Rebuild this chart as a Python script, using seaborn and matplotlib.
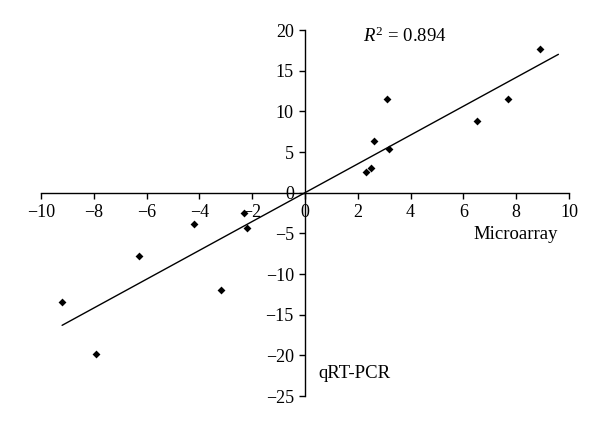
import numpy as np
import pandas as pd
import matplotlib
matplotlib.use("Agg")
import matplotlib.pyplot as plt
import seaborn as sns

# values
microarray = [8.9, 7.7, 6.5, 3.1, 2.6, 3.2, 2.5, 2.3,
              -9.2, -7.9, -6.3, -4.2, -3.2, -2.2, -2.3]
qrt_pcr = [17.7, 11.5, 8.85, 11.5, 6.3, 5.4, 3.1, 2.6,
           -13.5, -19.8, -7.8, -3.9, -12.0, -4.3, -2.5]
line_x = [-9.2, 9.6]
r_squared = 0.894
x_ticks = [-10, -8, -6, -4, -2, 0, 2, 4, 6, 8, 10]
y_ticks = [-25, -20, -15, -10, -5, 0, 5, 10, 15, 20]

data = pd.DataFrame({"microarray": microarray, "qrt_pcr": qrt_pcr})

# least squares line through the origin
x = np.array(microarray)
y = np.array(qrt_pcr)
slope = (x * y).sum() / (x * x).sum()
fit = pd.DataFrame({"x": line_x, "y": [slope * v for v in line_x]})

sns.set_theme(style="white")
plt.rcParams["font.family"] = ["Liberation Serif", "DejaVu Serif"]
plt.rcParams["text.color"] = "black"
plt.rcParams["mathtext.fontset"] = "custom"
plt.rcParams["mathtext.rm"] = "Liberation Serif"
plt.rcParams["mathtext.it"] = "Liberation Serif:italic"

fig = plt.figure(figsize=(6, 4.29), dpi=100)
ax = fig.add_axes([0.0683, 0.0769, 0.88, 0.853])

sns.lineplot(data=fit, x="x", y="y", color="black", linewidth=1.0, ax=ax)
sns.scatterplot(data=data, x="microarray", y="qrt_pcr", marker="D", s=16,
                color="black", edgecolor="black", linewidth=0, ax=ax, zorder=3)

ax.set_xlim(-10, 10)
ax.set_ylim(-25, 20)
ax.set_xticks(x_ticks)
ax.set_yticks(y_ticks)
ax.set_xticklabels([f"{t}".replace("-", "\u2212") for t in x_ticks])
ax.set_yticklabels([f"{t}".replace("-", "\u2212") for t in y_ticks])

for side in ["top", "right"]:
    ax.spines[side].set_visible(False)
ax.spines["left"].set_position(("data", 0))
ax.spines["bottom"].set_position(("data", 0))
for side in ["left", "bottom"]:
    ax.spines[side].set_color("black")
    ax.spines[side].set_linewidth(1.0)

ax.tick_params(axis="both", which="major", direction="out", length=4, width=1.0,
               color="black", labelsize=13, labelcolor="black")
ax.tick_params(axis="x", pad=4)
ax.tick_params(axis="y", pad=4)
ax.tick_params(bottom=True, left=True)
ax.set_xlabel("")
ax.set_ylabel("")

ax.text(2.2, 19.2, r"$R^{2}$ = " + f"{r_squared}", fontsize=13.5,
        ha="left", va="center", color="black")
ax.text(6.4, -5.2, "Microarray", fontsize=13.5, ha="left", va="center", color="black")
ax.text(0.5, -22.2, "qRT-PCR", fontsize=13.5, ha="left", va="center", color="black")

fig.savefig("out.png", dpi=100)
